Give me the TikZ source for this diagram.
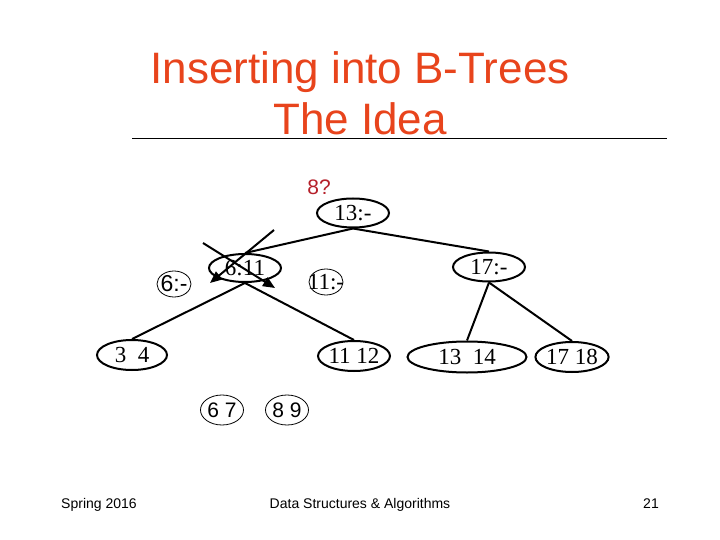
\documentclass[tikz,border=0pt]{standalone}
\usepackage{fontspec}
\setmainfont{Liberation Serif}
\setsansfont{Liberation Sans}
\usepackage{xcolor}
\definecolor{cTitle}{HTML}{E8441C}
\definecolor{cAsk}{HTML}{B5202A}
\usepackage{tikz}
\usetikzlibrary{positioning,arrows.meta,shapes.geometric}
\tikzset{
  key-node/.style={draw,line width=2pt,ellipse,inner sep=0pt,
    minimum width=72pt,minimum height=29pt,font=\rmfamily\fontsize{23}{25}\selectfont},
  leaf-node/.style={key-node,minimum width=70pt,minimum height=30pt},
  thin-node/.style={draw,line width=0.8pt,ellipse,inner sep=0pt,
    minimum width=34pt,minimum height=26pt,font=\sffamily\fontsize{23}{25}\selectfont},
  split-node/.style={thin-node,minimum width=43pt,minimum height=30pt,
    font=\sffamily\fontsize{21}{23}\selectfont},
  tree-edge/.style={line width=2pt},
  move-arrow/.style={-{Triangle[length=12pt,width=10pt]},line width=2pt},
  foot/.style={font=\sffamily\fontsize{14}{16}\selectfont,anchor=base},
}
\begin{document}
\begin{tikzpicture}[x=1pt,y=-1pt]
  \useasboundingbox (0,0) rectangle (720,540);
  % title
  \node[anchor=base,text=cTitle,font=\sffamily\fontsize{44}{51}\selectfont] (t1) at (360,84) {Inserting into B-Trees};
  \node[anchor=base,text=cTitle,font=\sffamily\fontsize{44}{51}\selectfont] (t2) at (360,135) {The Idea};
  \draw[line width=0.8pt] (132,138) -- (667,138);
  \node[anchor=base,text=cAsk,font=\sffamily\fontsize{21}{23}\selectfont] (ask) at (319,195) {8?};
  % inner keys
  \node[key-node]               (k13)   at (353,213) {13:-};
  \node[key-node,minimum height=28pt] (k611) at (245,268) {6:11};
  \node[key-node]               (k17)   at (489,267) {17:-};
  \node[thin-node]              (k6)    at (174,284) {\makebox[0pt]{6:-}};
  \node[thin-node,font=\rmfamily\fontsize{23}{25}\selectfont] (k11) at (326,282) {\makebox[0pt]{11:-}};
  % leaves
  \node[leaf-node]              (l34)   at (132,355) {3\ \ 4};
  \node[leaf-node]              (l1112) at (354,356) {11 12};
  \node[leaf-node,minimum width=119pt,minimum height=31pt] (l1314) at (467,357) {13\ \ 14};
  \node[leaf-node]              (l1718) at (572,357) {17 18};
  \node[split-node]             (l67)   at (222,410) {6 7};
  \node[split-node]             (l89)   at (287,410) {8 9};
  % edges
  \draw[tree-edge] (k13.south) -- (k611.north);
  \draw[tree-edge] (k13.south) -- (k17.north);
  \draw[tree-edge] (k611.south) -- (l34.north);
  \draw[tree-edge] (k611.south) -- (l1112.north);
  \draw[tree-edge] (k17.south) -- (l1314.north);
  \draw[tree-edge] (k17.south) -- (l1718.north);
  % split arrows
  \coordinate (a1) at (274,230);
  \coordinate (b1) at (210,283);
  \coordinate (a2) at (203,243);
  \coordinate (b2) at (275,288);
  \draw[move-arrow] (a1) -- (b1);
  \draw[move-arrow] (a2) -- (b2);
  % footer
  \node[foot] (f1) at (99,508) {Spring 2016};
  \node[foot] (f2) at (360,508) {Data Structures \& Algorithms};
  \node[foot] (f3) at (651,508) {21};
\end{tikzpicture}
\end{document}
